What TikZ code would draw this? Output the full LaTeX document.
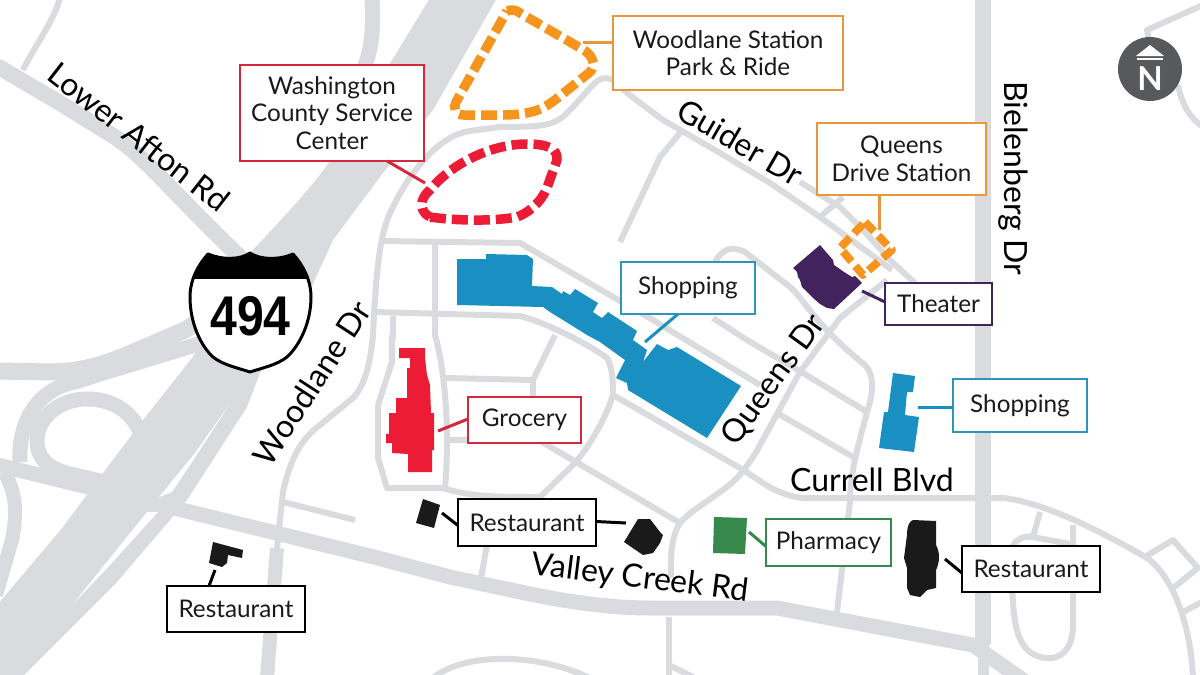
\documentclass[tikz,border=0pt]{standalone}
\usepackage{fontspec}
\usetikzlibrary{calc}
\setmainfont{Lato}
\newfontfamily\shieldfont{Liberation Sans}
\definecolor{road}{HTML}{D9DBDE}
\definecolor{ink}{HTML}{1A1A1A}
\definecolor{redc}{HTML}{ED1C36}
\definecolor{redb}{HTML}{D3283D}
\definecolor{orangec}{HTML}{F7941E}
\definecolor{oranged}{HTML}{E8973F}
\definecolor{bluec}{HTML}{1A8FC1}
\definecolor{blueb}{HTML}{2F93BC}
\definecolor{purplec}{HTML}{42235E}
\definecolor{greenc}{HTML}{36894A}
\definecolor{greyn}{HTML}{58595B}
\tikzset{
  thinroad/.style={draw=road,line width=6pt,line join=round},
  medroad/.style={draw=road,line width=10pt,line join=round},
  wideroad/.style={draw=road,line width=15pt,line join=round},
  highway/.style={fill=road,draw=none},
  lbl/.style={inner sep=0pt,outer sep=0pt,font=\fontsize{24.3}{27.5}\selectfont,text=ink,align=center},
  roadname/.style={lbl,font=\fontsize{32}{34}\selectfont,text=black},
  callout/.style={lbl,draw=#1,line width=2.4pt,fill=white},
  lead/.style={draw=#1,line width=3pt},
  area/.style={draw=#1,line width=9.5pt,dash pattern=on 16pt off 6pt,line join=round},
  bldg/.style={fill=#1,draw=none},
}
\begin{document}
\begin{tikzpicture}[x=1pt,y=-1pt]
\useasboundingbox (0,0) rectangle (1200,675);
\begin{scope}
\clip (0,0) rectangle (1200,675);
% --- freeway
\path[highway] (430,-2) -- (400,47) -- (337,150) .. controls (322,175) and (300,200) .. (250,253)
  -- (250,300) -- (200,345) -- (192,358) -- (143,420) -- (100,477) -- (63,527) -- (-2,604) -- (-2,678) -- (21,678)
  -- (117,582) -- (170,520) -- (187,500) -- (247,407) -- (260,373) -- (307,297) -- (333,240) -- (383,173) -- (433,110) -- (497,-2) -- cycle;
\path[fill=white] (229,405) -- (200,450) -- (172,492) -- (159,497) -- (195,453) -- cycle;
\path[fill=white] (147,512) -- (158,512) -- (110,565) -- (73,604) -- cycle;
\draw[draw=road,line width=17pt] (-2,371) -- (50,372) .. controls (90,372) and (120,358) .. (143,348) -- (185,330) -- (245,292);
\draw[wideroad] (20,462) .. controls (18,425) and (35,390) .. (75,382) -- (100,374) -- (143,361) -- (205,342);
\draw[wideroad] (140,432) .. controls (130,408) and (108,399) .. (87,399) .. controls (57,399) and (37,420) .. (37,440) .. controls (37,460) and (50,470) .. (75,475) -- (100,481);
\draw[draw=road,line width=14pt] (4,472) .. controls (15,490) and (18,510) .. (12,540) -- (-4,595);
\draw[draw=road,line width=16pt] (-3,66) -- (60,103) -- (115,137) .. controls (145,157) and (170,190) .. (245,262);
\draw[thinroad] (60,-2) .. controls (52,25) and (35,45) .. (23,70);
\draw[draw=road,line width=15pt] (372,-2) .. controls (374,30) and (372,60) .. (355,85);
% --- Bielenberg and Valley Creek
\draw[draw=road,line width=16pt] (983,-2) -- (983,645);
\draw[draw=road,line width=11pt] (983,640) -- (983,678);
\draw[wideroad] (-2,465) -- (370,556) -- (450,577) -- (530,594) .. controls (570,602) and (610,608) .. (650,608) -- (777,608) -- (973,645) -- (1040,692);
% --- local streets
\draw[thinroad] (892,270) -- (820,217) -- (770,183) -- (720,153) -- (663,120) -- (627,93) .. controls (618,84) and (612,78) .. (606,78)
  .. controls (595,78) and (590,90) .. (567,113) .. controls (555,125) and (545,127) .. (500,127) -- (470,131)
  .. controls (440,135) and (410,170) .. (390,213) .. controls (380,235) and (376,270) .. (373,335) .. controls (370,365) and (365,385) .. (353,398)
  -- (320,425) .. controls (300,440) and (290,460) .. (283,492) -- (277,548);
\draw[draw=road,line width=14pt] (277,548) -- (267,678);
\draw[thinroad] (283,502) -- (355,520);
\draw[thinroad] (800,182) -- (840,207) -- (865,232) -- (890,260) -- (915,283);
\draw[thinroad] (820,217) -- (843,197);
\draw[thinroad] (680,133) -- (660,157) -- (620,242);
\draw[thinroad] (382,241) -- (520,243) -- (653,320) -- (760,385);
\draw[thinroad] (374,312) -- (520,316) .. controls (545,322) and (590,345) .. (607,358) .. controls (613,368) and (613,385) .. (613,395)
  -- (740,468) .. controls (760,480) and (775,495) .. (803,498) -- (973,498) -- (1003,498) .. controls (1040,502) and (1090,525) .. (1147,558) .. controls (1165,570) and (1190,610) .. (1193,678);
\draw[thinroad] (392,335) -- (392,362) -- (378,405) -- (378,458) -- (387,488) -- (443,488) .. controls (470,497) and (500,497) .. (540,497);
\draw[thinroad] (435,243) -- (435,335) .. controls (445,370) and (450,430) .. (445,488);
\draw[thinroad] (393,316) -- (393,340);
\draw[thinroad] (445,378) -- (533,380) -- (555,335);
\draw[thinroad] (533,380) -- (533,400);
\draw[thinroad] (445,440) -- (470,440);
\draw[thinroad] (613,395) .. controls (605,420) and (590,445) .. (575,463) -- (540,497);
\draw[thinroad] (525,432) -- (680,523);
\draw[thinroad] (487,545) -- (481,578);
% Queens Dr
\draw[thinroad] (671,578) .. controls (670,555) and (672,535) .. (680,523) .. controls (690,510) and (720,495) .. (737,478) .. controls (748,465) and (755,455) .. (760,445) -- (800,372) -- (840,318) -- (887,280);
\draw[thinroad] (669,617) -- (669,678);
\draw[thinroad] (669,665) -- (695,678);
\draw[thinroad] (433,678) .. controls (460,655) and (530,650) .. (590,678);
% streets east of the mall
\draw[thinroad] (713,318) -- (747,340) -- (803,373) -- (867,412) .. controls (860,440) and (850,470) .. (850,502) -- (837,612);
\draw[thinroad] (777,413) -- (855,458);
\draw[thinroad] (715,262) .. controls (722,250) and (730,245) .. (745,252) -- (790,287) .. controls (805,300) and (815,325) .. (865,365) .. controls (875,375) and (873,395) .. (867,412);
% loops east of Bielenberg
\draw[thinroad] (1040,512) -- (1033,537);
\draw[thinroad] (1073,525) -- (1073,625) .. controls (1073,650) and (1060,660) .. (1045,658) .. controls (1025,655) and (1015,640) .. (1013,602) -- (1010,560) .. controls (1008,545) and (1020,534) .. (1033,537) -- (1075,545);
\draw[thinroad] (1143,558) -- (1173,540) -- (1198,568) -- (1173,588);
\draw[thinroad] (1183,612) -- (1202,602);
\draw[thinroad] (1203,5) -- (1147,30) -- (1150,45);
\draw[thinroad] (1178,85) .. controls (1182,105) and (1190,118) .. (1203,127);
\end{scope}

% --- areas
\draw[area=orangec] (507,11) .. controls (512,9) and (516,10) .. (520,13) -- (582,49) .. controls (592,54) and (597,65) .. (590,72) -- (560,96) .. controls (545,108) and (535,115) .. (500,115) -- (464,115) .. controls (455,115) and (453,108) .. (456,102) -- cycle;
\draw[area=redc] (430,217) .. controls (450,220) and (490,222) .. (517,217) .. controls (535,210) and (545,195) .. (548,185) -- (557,160) .. controls (558,150) and (550,144) .. (527,144) .. controls (490,144) and (450,165) .. (430,190) .. controls (418,200) and (420,212) .. (430,217) -- cycle;
\draw[draw=orangec,line width=8pt,dash pattern=on 13pt off 6pt,line join=round] (865,222) -- (892,250) -- (863,275) -- (840,248) -- cycle;

% --- buildings
\fill[bldg=bluec] (457,259) -- (486,259) -- (486,254) -- (527,255) -- (533,259) -- (532,286) -- (552,287) -- (562,294) -- (563,291) -- (570,295) -- (575,289) -- (598,303) -- (593,312) -- (602,318) -- (608,312) -- (637,331) -- (633,340) -- (647,350) -- (643,362) -- (657,344) -- (668,350) -- (677,347) -- (741,386) -- (707,438) -- (628,390) -- (627,383) -- (616,378) -- (625,360) -- (600,342) -- (587,335) -- (563,320) -- (550,312) -- (543,307) -- (457,305) -- cycle;
\fill[bldg=bluec] (893,373) -- (915,376) -- (913,392) -- (907,392) -- (905,415) -- (919,417) -- (914,452) -- (879,448) -- (884,412) -- (888,412) -- cycle;
\fill[bldg=purplec] (820,245) -- (826,252) -- (833,260) -- (834,265) -- (837,267) -- (844,272) -- (852,277) -- (855,276) -- (862,283) -- (834,309) -- (827,308) -- (820,304) -- (813,298) -- (802,287) -- (800,280) -- (798,277) -- (797,272) -- (793,268) -- cycle;
\fill[bldg=redc] (399,348) -- (425,348) -- (425,358) -- (427,375) -- (430,385) -- (431,413) -- (434,413) -- (434,450) -- (432,450) -- (432,472) -- (408,472) -- (408,454) -- (392,453) -- (392,443) -- (386,443) -- (386,434) -- (389,434) -- (389,413) -- (396,413) -- (396,398) -- (407,398) -- (407,368) -- (410,368) -- (410,358) -- (399,358) -- cycle;
\fill[bldg=greenc] (714,517) -- (747,518) -- (745,554) -- (713,553) -- cycle;
\fill[bldg=ink] (423,499) -- (440,505) -- (434,528) -- (416,523) -- cycle;
\fill[bldg=ink] (213,542) -- (243,550) -- (242,558) -- (228,555) -- (227,563) -- (222,567) -- (209,563) -- cycle;
\fill[bldg=ink] (638,519) -- (650,519) -- (660,532) -- (663,535) -- (660,543) -- (653,553) -- (643,555) -- (624,542) -- cycle;
\fill[bldg=ink] (913,520) -- (936,521) -- (936,545) .. controls (940,552) and (940,562) .. (936,570) -- (936,588) -- (927,590) -- (920,597) -- (910,595) -- (907,588) -- (907,568) -- (904,558) -- (907,535) .. controls (907,525) and (910,521) .. (913,520) -- cycle;

% --- callouts
\node[callout=redb,minimum width=184pt,minimum height=96pt] (wash) at (332,113) {Washington\\County Service\\Center};
\node[callout=oranged,minimum width=230pt,minimum height=74pt] (wood) at (728,53) {Woodlane Station\\Park \& Ride};
\node[callout=oranged,minimum width=169pt,minimum height=72pt] (queens) at (901.5,159) {Queens\\Drive Station};
\node[callout=purplec,minimum width=107pt,minimum height=42pt] (theater) at (938.5,304) {Theater};
\node[callout=blueb,minimum width=134pt,minimum height=52pt] (shopa) at (688,288) {Shopping};
\node[callout=blueb,minimum width=134pt,minimum height=53pt] (shopb) at (1020,405.5) {Shopping};
\node[callout=redb,minimum width=113pt,minimum height=46pt] (groc) at (524.5,420) {Grocery};
\node[callout=black,minimum width=138pt,minimum height=47pt] (resta) at (527,522.5) {Restaurant};
\node[callout=black,minimum width=138pt,minimum height=46pt] (restb) at (236,609) {Restaurant};
\node[callout=greenc,minimum width=125pt,minimum height=47pt] (pharm) at (828.5,542.5) {Pharmacy};
\node[callout=black,minimum width=138pt,minimum height=46pt] (restc) at (1031,569) {Restaurant};

% --- leaders
\coordinate (washend) at (425,183);
\coordinate (woodend) at (583,42);
\coordinate (queensend) at (879,230);
\coordinate (theaterend) at (862,291);
\coordinate (shopaend) at (645,342);
\coordinate (shopbend) at (918,407);
\coordinate (grocend) at (438,431);
\coordinate (restaL) at (442,513);
\coordinate (restaR) at (626,523);
\coordinate (restbend) at (215,570);
\coordinate (pharmend) at (749,532);
\coordinate (restcend) at (945,559);
\draw[lead=redb] (washend) -- ([xshift=55pt]wash.south);
\draw[lead=oranged] (woodend) -- (wood.west |- woodend);
\draw[lead=oranged] (queensend) -- (queens.south -| queensend);
\draw[lead=purplec] (theaterend) -- ([yshift=2pt]theater.west);
\draw[lead=bluec] (shopaend) -- ([xshift=-10pt]shopa.south);
\draw[lead=bluec] (shopbend) -- (shopb.west |- shopbend);
\draw[lead=redb] (grocend) -- ([yshift=1pt]groc.west);
\draw[lead=black] (restaL) -- ([yshift=-3pt]resta.west);
\draw[lead=black] (restaR) -- ([yshift=1pt]resta.east);
\draw[lead=black] (restbend) -- ([xshift=-27pt]restb.north);
\draw[lead=greenc] (pharmend) -- ([yshift=-4pt]pharm.west);
\draw[lead=black] (restcend) -- ([yshift=-4pt]restc.west);

% --- road names
\node[roadname,rotate=-38] (afton) at (139,137) {Lower Afton Rd};
\node[roadname,rotate=57] (woodlane) at (312,383) {Woodlane Dr};
\node[roadname,rotate=-30] (guider) at (740,142) {Guider Dr};
\node[roadname,rotate=54] (queensdr) at (774,380) {Queens Dr};
\node[roadname,rotate=-90] (bielen) at (1013,178) {Bielenberg Dr};
\node[roadname] (currell) at (872,480) {Currell Blvd};
\node[roadname,rotate=-7] (valley) at (640,579) {Valley Creek Rd};

% --- shield
\path[fill=white,draw=black,line width=3pt,line join=round] (208,254) .. controls (222,260) and (240,260) .. (250,253) .. controls (260,260) and (280,260) .. (293,254) .. controls (303,265) and (311,280) .. (311,297) .. controls (311,322) and (300,345) .. (287,357) .. controls (277,365) and (262,368) .. (250,372) .. controls (238,368) and (223,365) .. (213,357) .. controls (200,345) and (190,322) .. (190,297) .. controls (190,280) and (198,265) .. (208,254) -- cycle;
\begin{scope}
\clip (208,254) .. controls (222,260) and (240,260) .. (250,253) .. controls (260,260) and (280,260) .. (293,254) .. controls (303,265) and (311,280) .. (311,297) -- (190,297) .. controls (190,280) and (198,265) .. (208,254) -- cycle;
\fill[black] (185,250) rectangle (315,279);
\end{scope}
\node[inner sep=0pt,text=black,xscale=.86,font={\shieldfont\bfseries\fontsize{56}{56}\selectfont}] (num) at (250.5,316) {494};

% --- north arrow
\fill[greyn] (1150,69) circle (32pt);
\fill[white] (1150,45) -- (1164,56) -- (1136,56) -- cycle;
\fill[white] (1137,57.5) rectangle (1163,59.5);
\node[inner sep=0pt,text=white,font={\bfseries\fontsize{33}{33}\selectfont}] (north) at (1150,79) {N};
\end{tikzpicture}
\end{document}
